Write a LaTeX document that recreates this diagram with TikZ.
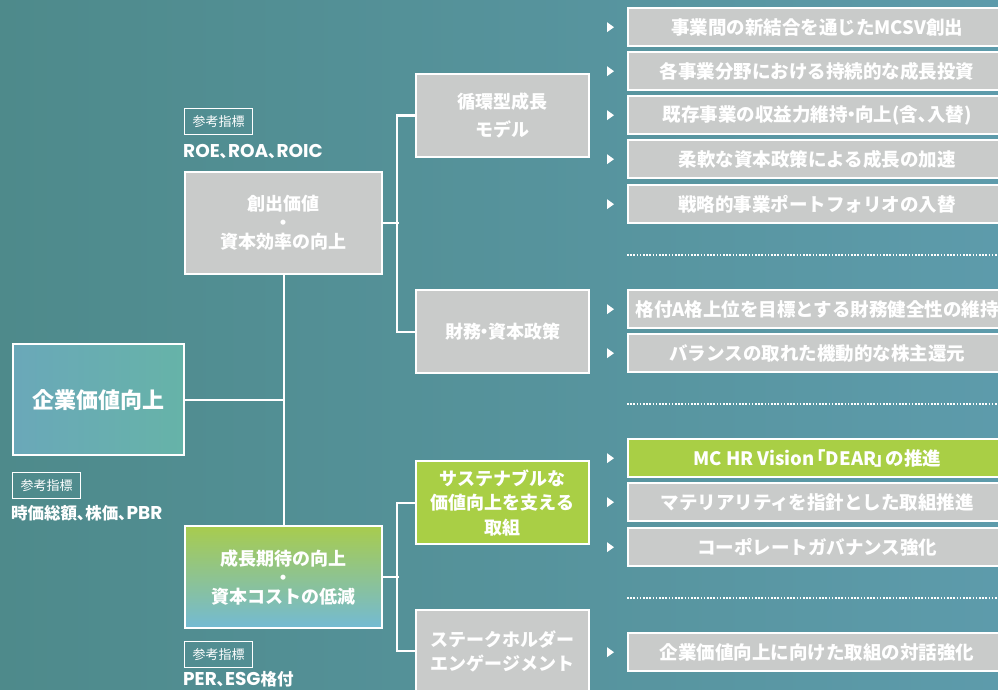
\documentclass[tikz,border=0pt]{standalone}
\usepackage{fontspec}
\setmainfont{Noto Sans CJK JP}
\newfontfamily\poppins{Poppins}
\usetikzlibrary{calc}
\definecolor{bgL}{HTML}{4E8A8B}
\definecolor{bgR}{HTML}{5D9BAB}
\definecolor{gbox}{HTML}{C9CBCA}
\definecolor{lgreen}{HTML}{A9CF45}
\definecolor{kL}{HTML}{6AA8B9}
\definecolor{kR}{HTML}{66B3A8}
\definecolor{sT}{HTML}{A8CC4E}
\definecolor{sB}{HTML}{73BAD4}
\newcommand\lt[1]{{\poppins\bfseries\fontsize{18.5}{18}\selectfont #1}}
\newcommand\nd{\kern-0.3em・\kern-0.3em}
\newcommand\tri[1]{\fill[white] ([shift={(-20pt,5pt)}]#1.west) -- ([shift={(-13pt,0pt)}]#1.west) -- ([shift={(-20pt,-5pt)}]#1.west) -- cycle;}
\begin{document}
\begin{tikzpicture}[x=1pt,y=-1pt,
  box/.style={draw=white, line width=2.4pt, fill=gbox, text=white, font=\bfseries, align=center, inner sep=0pt, anchor=north west},
  bigbox/.style={box, minimum width=197pt, minimum height=102pt, font=\bfseries\fontsize{18}{19}\selectfont},
  midbox/.style={box, minimum width=173pt, minimum height=83pt, font=\bfseries\fontsize{18}{24.5}\selectfont},
  rbox/.style={box, minimum width=378pt, minimum height=38pt, font=\bfseries\fontsize{18.5}{20}\selectfont},
  refbox/.style={draw=white, line width=1.2pt, text=white, font=\fontsize{13}{14}\selectfont, minimum width=68pt, minimum height=26pt, inner sep=0pt, anchor=north west},
  idx/.style={text=white, font=\bfseries\fontsize{16.5}{18}\selectfont, inner sep=0pt, anchor=west},
  conn/.style={draw=white, line width=2.4pt},
  dotline/.style={draw=white, line width=1.6pt, dash pattern=on 1.6pt off 1.6pt}]
\useasboundingbox (0,0) rectangle (998,690);
\clip (0,0) rectangle (998,690);
\shade[left color=bgL, right color=bgR] (0,0) rectangle (998,690);

% left column
\node[refbox] (ref1) at (184,108) {参考指標};
\node[idx] (roe) at (183,152) {\lt{ROE}､\lt{ROA}､\lt{ROIC}};
\node[bigbox] (soshutsu) at (184,171) {創出価値\\・\\資本効率の向上};
\node[box, minimum width=171pt, minimum height=111pt, left color=kL, right color=kR, font=\bfseries\fontsize{22}{24}\selectfont] (kigyo) at (12,343) {企業価値向上};
\node[refbox] (ref2) at (12,472) {参考指標};
\node[idx] (jika) at (11,513) {時価総額､株価､\lt{PBR}};
\node[bigbox, top color=sT, bottom color=sB] (seicho) at (184,525) {成長期待の向上\\・\\資本コストの低減};
\node[refbox] (ref3) at (184,641) {参考指標};
\node[idx] (per) at (183,679) {\lt{PER}､\lt{ESG}格付};

% middle column
\node[midbox, font=\bfseries\fontsize{18}{28}\selectfont] (junkan) at (415,73) {循環型成長\\モデル};
\node[midbox] (zaimu) at (415,289) {財務\nd 資本政策};
\node[midbox, fill=lgreen] (sustain) at (415,460) {サステナブルな\\価値向上を支える\\取組};
\node[midbox, minimum height=82pt] (stake) at (415,609) {ステークホルダー\\エンゲージメント};

% right column
\node[rbox] (r1) at (627,7) {事業間の新結合を通じたMCSV創出};
\node[rbox] (r2) at (627,51) {各事業分野における持続的な成長投資};
\node[rbox] (r3) at (627,95) {既存事業の収益力維持\nd 向上(含､入替)};
\node[rbox] (r4) at (627,139) {柔軟な資本政策による成長の加速};
\node[rbox] (r5) at (627,184) {戦略的事業ポートフォリオの入替};
\node[rbox] (r6) at (627,289) {格付A格上位を目標とする財務健全性の維持};
\node[rbox] (r7) at (627,333) {バランスの取れた機動的な株主還元};
\node[rbox, fill=lgreen] (r8) at (627,438) {MC HR Vision\kern-0.4em「DEAR\kern-0.1em」\kern-0.4em の推進};
\node[rbox] (r9) at (627,482) {マテリアリティを指針とした取組推進};
\node[rbox] (r10) at (627,527) {コーポレートガバナンス強化};
\node[rbox] (r11) at (627,632) {企業価値向上に向けた取組の対話強化};

\foreach \r in {r1,r2,r3,r4,r5,r6,r7,r8,r9,r10,r11} {\tri{\r}}

% dotted separators
\coordinate (d1a) at (627,255); \coordinate (d1b) at (998,255);
\coordinate (d2a) at (627,404); \coordinate (d2b) at (998,404);
\coordinate (d3a) at (627,598); \coordinate (d3b) at (998,598);
\draw[dotline] (d1a) -- (d1b);
\draw[dotline] (d2a) -- (d2b);
\draw[dotline] (d3a) -- (d3b);

% connectors
\draw[conn] (soshutsu.south) -- (seicho.north);
\draw[conn] (kigyo.east) -- (kigyo.east -| soshutsu.south);
\draw[conn] (junkan.west) -- ++(-18,0) |- (zaimu.west);
\draw[conn] (soshutsu.east) -- ++(16,0);
\draw[conn] (sustain.west) -- ++(-18,0) |- (stake.west);
\draw[conn] (seicho.east) -- ++(16,0);
\end{tikzpicture}
\end{document}
